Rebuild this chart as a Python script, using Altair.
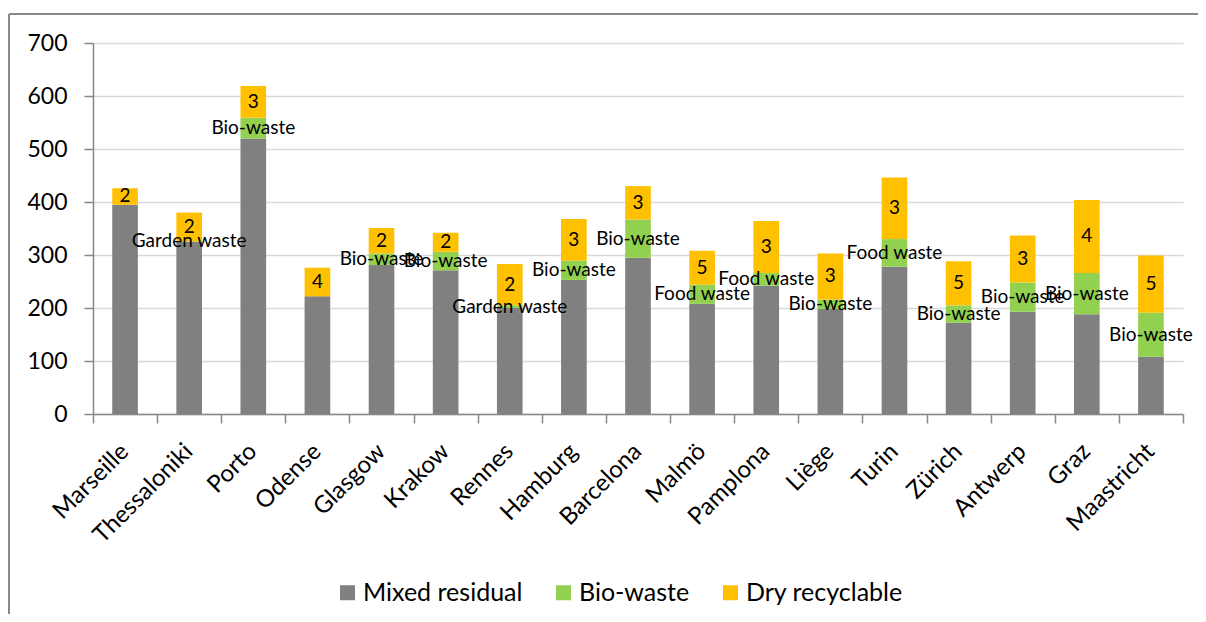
import altair as alt
import pandas as pd

cities = ["Marseille", "Thessaloniki", "Porto", "Odense", "Glasgow", "Krakow", "Rennes",
          "Hamburg", "Barcelona", "Malmö", "Pamplona", "Liège", "Turin", "Zürich",
          "Antwerp", "Graz", "Maastricht"]
mixed = [395, 325, 520, 222, 281, 271, 200, 253, 295, 208, 242, 198, 278, 172, 193, 188, 108]
bio = [0, 1, 39, 0, 22, 35, 5, 36, 72, 36, 24, 18, 52, 33, 55, 78, 83]
dry = [31, 54, 60, 54, 48, 36, 78, 79, 63, 64, 98, 87, 116, 83, 89, 138, 108]
bio_labels = ["", "Garden waste", "Bio-waste", "", "Bio-waste", "Bio-waste", "Garden waste",
              "Bio-waste", "Bio-waste", "Food waste", "Food waste", "Bio-waste", "Food waste",
              "Bio-waste", "Bio-waste", "Bio-waste", "Bio-waste"]
dry_labels = ["2", "2", "3", "4", "2", "2", "2", "3", "3", "5", "3", "3", "3", "5", "3", "4", "5"]
series = ["Mixed residual", "Bio-waste", "Dry recyclable"]
colors = ["#808080", "#92D050", "#FFC000"]

rows = []
for i, c in enumerate(cities):
    rows.append({"city": c, "series": series[0], "value": mixed[i], "label": "", "order": 0})
    rows.append({"city": c, "series": series[1], "value": bio[i], "label": bio_labels[i], "order": 1})
    rows.append({"city": c, "series": series[2], "value": dry[i], "label": dry_labels[i], "order": 2})
df = pd.DataFrame(rows)

FONT = "Lato"

x = alt.X("city:N", sort=cities, title=None,
          scale=alt.Scale(paddingInner=0, paddingOuter=0),
          axis=alt.Axis(labelAngle=-45, labelFontSize=24, labelFont=FONT, labelColor="#000",
                        tickSize=9, tickColor="#888", domainColor="#888", domainWidth=1.5,
                        tickWidth=1.5, tickBand="extent", labelPadding=16, labelOffset=-9,
                        grid=False))

bars = alt.Chart(df).mark_bar(width=alt.RelativeBandSize(0.4)).encode(
    x=x,
    y=alt.Y("value:Q", stack="zero", title=None,
            scale=alt.Scale(domain=[0, 700], nice=False),
            axis=alt.Axis(values=[0, 100, 200, 300, 400, 500, 600, 700], labelFontSize=23,
                          labelFont=FONT, labelColor="#000", tickSize=9, tickColor="#888",
                          tickWidth=1.5, domainColor="#888", domainWidth=1.5, labelPadding=17,
                          gridColor="#d9d9d9", gridWidth=1.5)),
    color=alt.Color("series:N", sort=series,
                    scale=alt.Scale(domain=series, range=colors),
                    legend=alt.Legend(title=None, orient="none", direction="horizontal",
                                      legendX=242, legendY=537, symbolType="square",
                                      symbolSize=225, symbolStrokeWidth=0, labelFontSize=25,
                                      labelFont=FONT, labelColor="#000", columnPadding=28,
                                      labelOffset=3, padding=0)),
    order=alt.Order("order:Q"),
)

labels = alt.Chart(df).transform_stack(
    stack="value", groupby=["city"], as_=["v0", "v1"], sort=[alt.SortField("order")]
).transform_calculate(
    mid="(datum.v0 + datum.v1) / 2"
).transform_filter(
    "datum.label != ''"
).mark_text(fontSize=19, font=FONT, color="#000").encode(
    x=alt.X("city:N", sort=cities),
    y=alt.Y("mid:Q"),
    text="label:N",
)

border_df = pd.DataFrame({"k": [0]})
left_border = alt.Chart(border_df).mark_rule(color="#888", strokeWidth=2).encode(
    x=alt.value(-84), y=alt.value(-29), y2=alt.value(600))
top_border = alt.Chart(border_df).mark_rule(color="#888", strokeWidth=2).encode(
    x=alt.value(-84), x2=alt.value(1120), y=alt.value(-29))

chart = alt.layer(bars, labels, left_border, top_border).properties(
    width=1090, height=371,
    autosize=alt.AutoSizeParams(type="none"),
    padding={"left": 85, "top": 35, "right": 15, "bottom": 200},
).configure_view(stroke=None)

chart.save("out.html", embed_options={"renderer": "svg", "actions": False})
